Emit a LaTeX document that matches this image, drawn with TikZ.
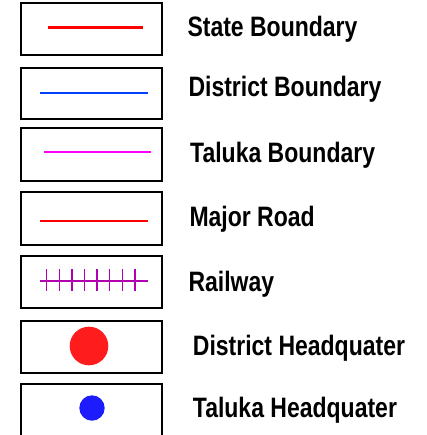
\documentclass[tikz,border=0pt]{standalone}
\usepackage{fontspec}
\setmainfont{Liberation Sans}
\definecolor{stateRed}{RGB}{255,0,0}
\definecolor{distBlue}{RGB}{0,64,255}
\definecolor{talMag}{RGB}{255,0,255}
\definecolor{railPurple}{RGB}{176,0,176}
\definecolor{hqRed}{RGB}{255,28,28}
\definecolor{hqBlue}{RGB}{28,28,255}
\newcommand{\keylabel}[1]{\scalebox{1}[1.22]{#1}}
\tikzset{
  keybox/.style={draw=black,line width=1.6pt},
  keytext/.style={anchor=base west,inner sep=0pt,font=\bfseries\fontsize{23}{27}\selectfont}
}
\begin{document}
\begin{tikzpicture}[x=1pt,y=-1pt]
  \useasboundingbox (0,0) rectangle (426,435);
  \clip (0,0) rectangle (426,435);

  % Cadres de la legende
  \foreach \yt/\yb in {3/55,68/119,128/181,192/245,256/308,321/373,384/440}
    \draw[keybox] (21,\yt) rectangle (162,\yb);

  % Limites
  \draw[stateRed,line width=2.6pt] (48,27.7) -- (143,27.7);
  \draw[distBlue,line width=2pt] (40,93) -- (148,93);
  \draw[talMag,line width=1.3pt] (44,152) -- (151,152);
  % Route
  \draw[stateRed,line width=1.8pt] (40,221) -- (148,221);

  % Chemin de fer
  \draw[railPurple,line width=1.4pt] (40,281) -- (148,281);
  \foreach \x in {0,...,7}
    \draw[railPurple,line width=1.4pt] ({46.7+12.6*\x},269) -- ({46.7+12.6*\x},291);

  % Chefs-lieux
  \fill[hqRed] (89,346) circle (19.3);
  \fill[hqBlue] (92,408) circle (12.7);

  % Textes
  \node[keytext] (tState) at (187.3,36.7) {\keylabel{State Boundary}};
  \node[keytext] (tDist) at (188.3,96.7) {\keylabel{District Boundary}};
  \node[keytext] (tTal) at (190,162.7) {\keylabel{Taluka Boundary}};
  \node[keytext] (tRoad) at (189.3,226.7) {\keylabel{Major Road}};
  \node[keytext] (tRail) at (188.3,291) {\keylabel{Railway}};
  \node[keytext] (tDhq) at (192.7,355) {\keylabel{District Headquater}};
  \node[keytext] (tThq) at (192.7,417.7) {\keylabel{Taluka Headquater}};
\end{tikzpicture}
\end{document}
